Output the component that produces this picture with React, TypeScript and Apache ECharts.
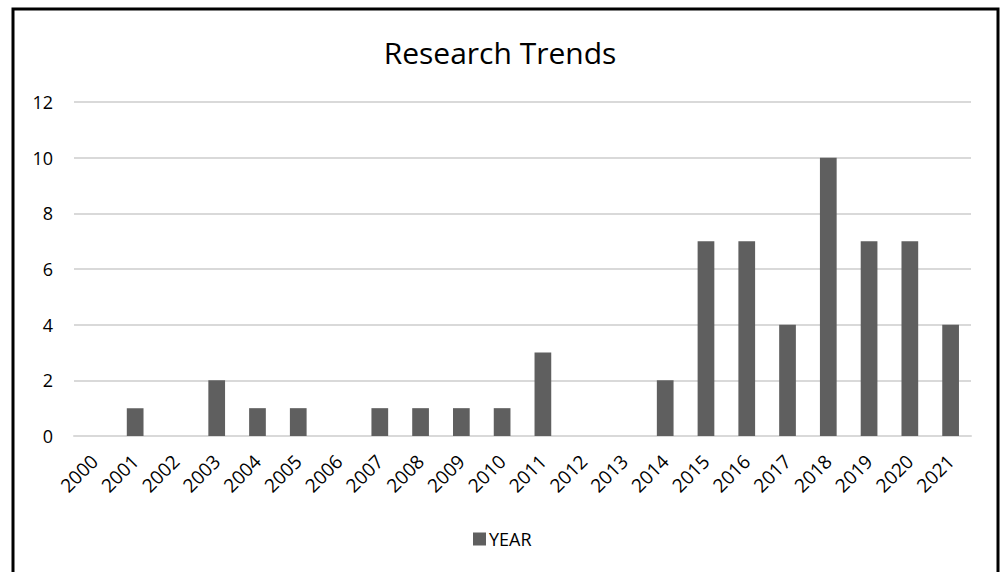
import React, { useEffect, useRef } from "react";
import * as echarts from "echarts";

const years = ["2000","2001","2002","2003","2004","2005","2006","2007","2008","2009","2010","2011","2012","2013","2014","2015","2016","2017","2018","2019","2020","2021"];
const counts = [0,1,0,2,1,1,0,1,1,1,1,3,0,0,2,7,7,4,10,7,7,4];
const seriesName = "YEAR";
const chartTitle = "Research Trends";

export default function App() {
  const ref = useRef<HTMLDivElement>(null);
  useEffect(() => {
    const chart = echarts.init(ref.current!, null, { renderer: "svg" });
    const font = "Open Sans";
    chart.setOption({
      animation: false,
      backgroundColor: "#ffffff",
      title: {
        text: chartTitle,
        left: "center",
        top: 32,
        textStyle: { fontFamily: font, fontSize: 30, fontWeight: "normal", color: "#000" },
      },
      graphic: [
        {
          type: "rect",
          shape: { x: 13, y: 9, width: 985, height: 620 },
          style: { fill: "none", stroke: "#000", lineWidth: 3 },
          silent: true,
        },
      ],
      legend: {
        bottom: 19,
        left: 468,
        itemWidth: 13,
        itemHeight: 13,
        itemGap: 6,
        icon: "rect",
        textStyle: { fontFamily: font, fontSize: 18, color: "#000", padding: [0, 0, 0, -2] },
        data: [seriesName],
      },
      grid: { left: 74, right: 29, top: 102, bottom: 136 },
      xAxis: {
        type: "category",
        data: years,
        axisLine: { show: true, lineStyle: { color: "#d9d9d9", width: 2 } },
        axisTick: { show: false },
        axisLabel: {
          rotate: 45,
          interval: 0,
          margin: 22,
          fontFamily: font,
          fontSize: 19,
          color: "#000",
        },
      },
      yAxis: {
        type: "value",
        min: 0,
        max: 12,
        interval: 2,
        axisLine: { show: false },
        axisTick: { show: false },
        splitLine: { lineStyle: { color: "#d9d9d9", width: 2 } },
        axisLabel: { fontFamily: font, fontSize: 18, color: "#000", margin: 21 },
      },
      series: [
        {
          name: seriesName,
          type: "bar",
          data: counts,
          barWidth: "41%",
          itemStyle: { color: "#5f5f5f" },
        },
      ],
    });
    return () => chart.dispose();
  }, []);
  return (
    <div
      ref={ref}
      style={{ position: "absolute", left: 0, top: 0, width: 1000, height: 572 }}
    />
  );
}
